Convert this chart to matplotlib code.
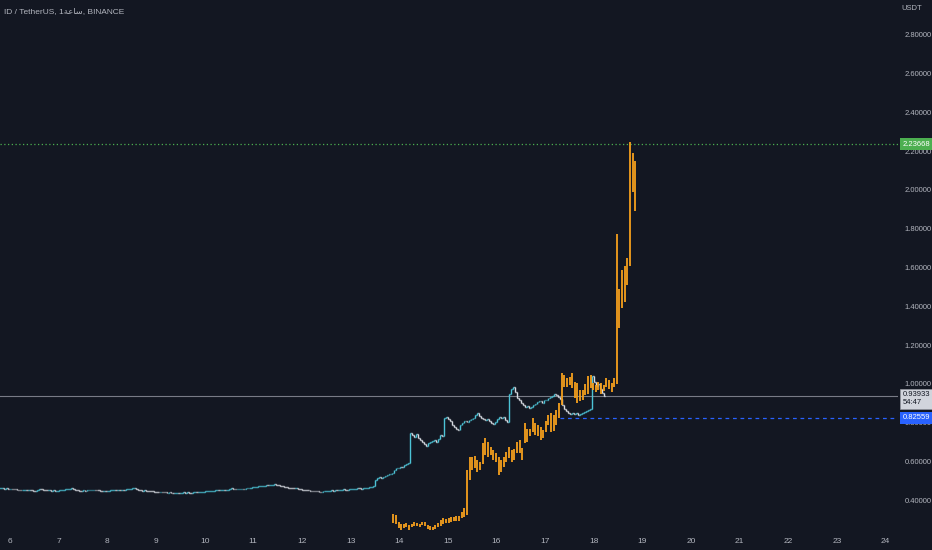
import numpy as np
import matplotlib
matplotlib.use("agg")
import matplotlib.pyplot as plt
from matplotlib.collections import LineCollection
import matplotlib.transforms as mtransforms

# hourly closes of ID/USDT, grouped by day of month
lead_in = [0.462, 0.462, 0.461, 0.462, 0.461]
day6 = [0.461, 0.460, 0.458, 0.456, 0.455, 0.454, 0.454, 0.455, 0.453, 0.454, 0.452, 0.451,
        0.450, 0.452, 0.461, 0.458, 0.455, 0.454, 0.452, 0.453, 0.451, 0.452, 0.450, 0.451]
day7 = [0.452, 0.454, 0.456, 0.458, 0.458, 0.460, 0.464, 0.461, 0.455, 0.452, 0.451, 0.450,
        0.452, 0.451, 0.453, 0.454, 0.454, 0.455, 0.454, 0.452, 0.451, 0.450, 0.450, 0.449]
day8 = [0.451, 0.452, 0.454, 0.456, 0.455, 0.455, 0.454, 0.456, 0.455, 0.457, 0.458, 0.460,
        0.462, 0.463, 0.458, 0.454, 0.452, 0.451, 0.452, 0.450, 0.448, 0.447, 0.446, 0.445]
day9 = [0.444, 0.443, 0.444, 0.442, 0.441, 0.440, 0.441, 0.440, 0.439, 0.440, 0.440, 0.439,
        0.440, 0.441, 0.440, 0.441, 0.440, 0.439, 0.441, 0.442, 0.441, 0.442, 0.443, 0.444]
day10 = [0.446, 0.447, 0.449, 0.450, 0.451, 0.452, 0.453, 0.452, 0.454, 0.455, 0.454, 0.456,
         0.460, 0.462, 0.458, 0.457, 0.459, 0.460, 0.461, 0.460, 0.462, 0.463, 0.465, 0.467]
day11 = [0.468, 0.470, 0.472, 0.474, 0.475, 0.476, 0.478, 0.477, 0.479, 0.481, 0.483, 0.480,
         0.478, 0.476, 0.472, 0.470, 0.468, 0.466, 0.465, 0.464, 0.462, 0.463, 0.460, 0.458]
day12 = [0.456, 0.455, 0.453, 0.452, 0.450, 0.449, 0.447, 0.446, 0.445, 0.444, 0.446, 0.447,
         0.449, 0.450, 0.452, 0.451, 0.453, 0.452, 0.454, 0.455, 0.457, 0.456, 0.455, 0.458]
day13 = [0.458, 0.460, 0.461, 0.463, 0.462, 0.460, 0.462, 0.464, 0.466, 0.468, 0.470, 0.472,
         0.505, 0.515, 0.520, 0.518, 0.522, 0.525, 0.530, 0.535, 0.540, 0.555, 0.565, 0.568]
day14 = [0.572, 0.570, 0.580, 0.588, 0.592, 0.745, 0.735, 0.728, 0.740, 0.720, 0.710, 0.700,
         0.690, 0.680, 0.695, 0.700, 0.705, 0.710, 0.700, 0.715, 0.735, 0.730, 0.825, 0.830]
day15 = [0.820, 0.810, 0.790, 0.780, 0.770, 0.765, 0.790, 0.800, 0.810, 0.805, 0.815, 0.820,
         0.825, 0.840, 0.850, 0.835, 0.825, 0.820, 0.815, 0.818, 0.810, 0.800, 0.795, 0.805]
day16 = [0.820, 0.830, 0.825, 0.830, 0.815, 0.805, 0.950, 0.975, 0.985, 0.960, 0.930, 0.915,
         0.900, 0.890, 0.880, 0.885, 0.875, 0.880, 0.890, 0.895, 0.905, 0.910, 0.900, 0.915]
day17 = [0.920, 0.930, 0.935, 0.940, 0.950, 0.945, 0.935, 0.925, 0.890, 0.870, 0.860, 0.850,
         0.845, 0.850, 0.845, 0.848, 0.842, 0.845, 0.850, 0.855, 0.860, 0.865, 0.870, 1.040]
day18 = [1.010, 0.990, 1.000, 0.975, 0.955, 0.939]
white_start = 5.8  # day of month of first hourly bar

# overlay symbol (orange bars): high / low of each bar
orange_high = [0.330, 0.325, 0.290, 0.280, 0.280, 0.285, 0.275, 0.280, 0.290, 0.285,
               0.280, 0.290, 0.290, 0.275, 0.268, 0.265, 0.272, 0.282, 0.300, 0.310,
               0.305, 0.310, 0.316, 0.315, 0.318, 0.320, 0.340, 0.360, 0.557, 0.625,
               0.625, 0.630, 0.610, 0.600, 0.696, 0.720, 0.700, 0.677, 0.660, 0.643,
               0.625, 0.610, 0.625, 0.650, 0.677, 0.660, 0.665, 0.700, 0.710, 0.670,
               0.800, 0.770, 0.770, 0.825, 0.800, 0.790, 0.780, 0.765, 0.810, 0.840,
               0.850, 0.840, 0.866, 0.900, 1.057, 1.046, 1.030, 1.038, 1.057, 1.010,
               1.005, 0.970, 0.970, 1.000, 1.040, 1.046, 1.005, 0.995, 1.010, 1.005,
               0.995, 1.030, 1.020, 1.005, 1.030, 1.773, 1.490, 1.590, 1.610, 1.650,
               2.249, 2.190, 2.150]
orange_low = [0.284, 0.280, 0.256, 0.250, 0.260, 0.265, 0.250, 0.265, 0.270, 0.267,
              0.262, 0.275, 0.270, 0.255, 0.247, 0.247, 0.252, 0.265, 0.270, 0.280,
              0.282, 0.285, 0.290, 0.292, 0.296, 0.295, 0.310, 0.316, 0.325, 0.505,
              0.557, 0.567, 0.548, 0.557, 0.590, 0.634, 0.625, 0.634, 0.610, 0.600,
              0.530, 0.548, 0.574, 0.600, 0.617, 0.600, 0.610, 0.643, 0.643, 0.610,
              0.696, 0.700, 0.730, 0.754, 0.737, 0.730, 0.710, 0.720, 0.754, 0.790,
              0.754, 0.760, 0.790, 0.825, 0.890, 0.986, 0.986, 0.995, 0.980, 0.930,
              0.900, 0.910, 0.920, 0.943, 0.950, 0.980, 0.970, 0.960, 0.970, 0.950,
              0.965, 0.986, 0.975, 0.960, 0.986, 1.000, 1.290, 1.390, 1.420, 1.510,
              1.610, 1.990, 1.890]
orange_start = 13.879
orange_step = 0.05406

high_price = 2.23668
last_price = 0.93933
compare_price = 0.82559
countdown = "54:47"
price_ticks = [0.4, 0.6, 0.8, 1.0, 1.2, 1.4, 1.6, 1.8, 2.0, 2.2, 2.4, 2.6, 2.8]
day_ticks = list(range(6, 25))

BG = '#131722'
TXT = '#b2b5be'
UP = '#4cc3d6'
DOWN = '#d8dbe2'
ORANGE = '#f5a01d'
FONT = ['Liberation Sans', 'DejaVu Sans']

closes = np.array(lead_in + day6 + day7 + day8 + day9 + day10 + day11 + day12 +
                  day13 + day14 + day15 + day16 + day17 + day18)
opens = np.concatenate([[closes[0]], closes[:-1]])
times = white_start + np.arange(len(closes)) / 24.0

fig = plt.figure(figsize=(9.32, 5.5), dpi=100, facecolor=BG)
ax = fig.add_axes([0, 19 / 550, 898 / 932, 531 / 550], facecolor=BG)
ax.set_xlim(5.794, 24.253)
ax.set_ylim(0.2423, 2.979)
for s in ax.spines.values():
    s.set_visible(False)

# main symbol as OHLC bars
w = 0.45 / 24
segs, cols = [], []
for t, o, c in zip(times, opens, closes):
    col = UP if c >= o else DOWN
    segs += [[(t, min(o, c)), (t, max(o, c))], [(t - w, o), (t, o)], [(t, c), (t + w, c)]]
    cols += [col] * 3
ax.add_collection(LineCollection(segs, colors=cols, linewidths=1.0, zorder=3))

# overlay symbol
ot = orange_start + orange_step * np.arange(len(orange_high))
ax.vlines(ot, orange_low, orange_high, colors=ORANGE, linewidth=1.3, zorder=4)

# price lines
ax.axhline(high_price, color='#4caf50', linestyle=(0, (1, 2)), linewidth=0.9, zorder=2)
ax.axhline(last_price, color='#787b86', linewidth=0.8, zorder=2)
ax.hlines(compare_price, 17.3, 24.253, color='#2962ff', linestyle=(0, (3, 3)),
          linewidth=0.9, zorder=2)

ax.yaxis.tick_right()
ax.set_yticks(price_ticks)
ax.set_yticklabels(['%.5f' % p for p in price_ticks])
ax.set_xticks(day_ticks)
ax.set_xticklabels([str(d) for d in day_ticks])
ax.tick_params(axis='both', length=0, colors=TXT)
ax.tick_params(axis='y', pad=5, labelsize=5.5)
ax.tick_params(axis='x', pad=5, labelsize=6)
for lab in ax.get_xticklabels() + ax.get_yticklabels():
    lab.set_family(FONT)

trans = mtransforms.blended_transform_factory(ax.transAxes, ax.transData)
box_x = 1.0 + 5 / 898
ax.text(box_x, high_price, '%.5f' % high_price, transform=trans, ha='left', va='center',
        fontsize=5.5, color='white', family=FONT, zorder=10, clip_on=False,
        bbox=dict(boxstyle='square,pad=0.35', fc='#4caf50', ec='none'))
ax.text(box_x, last_price - 0.016, '%.5f\n%s' % (last_price, countdown), transform=trans,
        ha='left', va='center', fontsize=5.5, color='#131722', family=FONT, zorder=10,
        clip_on=False, linespacing=1.2,
        bbox=dict(boxstyle='square,pad=0.35', fc='#d1d4dc', ec='#9598a1', lw=0.5))
ax.text(box_x, compare_price, '%.5f' % compare_price, transform=trans, ha='left', va='center',
        fontsize=5.5, color='white', family=FONT, zorder=10, clip_on=False,
        bbox=dict(boxstyle='square,pad=0.35', fc='#2962ff', ec='none'))

fig.text(912 / 932, 1 - 9 / 550, 'USDT', ha='center', va='center', fontsize=5.5,
         color=TXT, family=FONT)
fig.text(4 / 932, 1 - 12 / 550, 'ID / TetherUS, 1\ufe94\ufecb\ufe8e\ufeb3, BINANCE',
         ha='left', va='center', fontsize=6, color=TXT, family=FONT)

fig.savefig('out.png', dpi=100, facecolor=BG)
